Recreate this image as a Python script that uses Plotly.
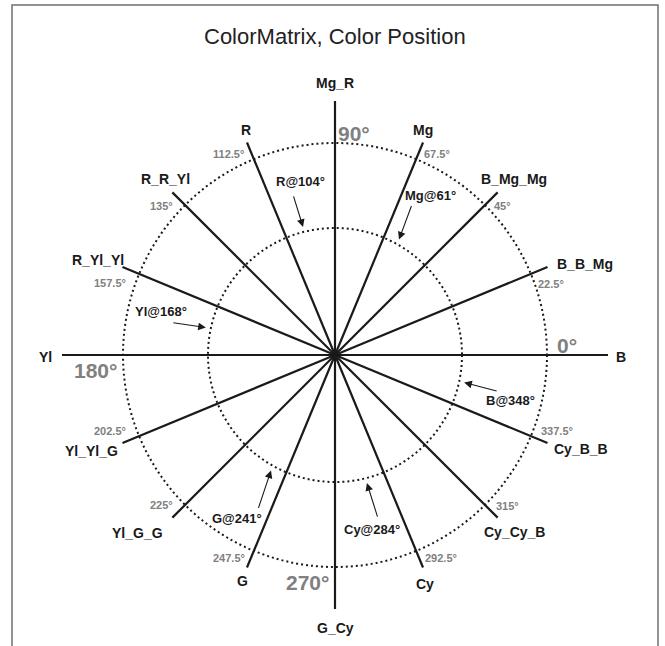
import math
import plotly.graph_objects as go

# ---------------- data ----------------
SPOKE_ANGLES = [0, 22.5, 45, 67.5, 90, 112.5, 135, 157.5,
                180, 202.5, 225, 247.5, 270, 292.5, 315, 337.5]
SPOKE_NAMES = ["B", "B_B_Mg", "B_Mg_Mg", "Mg", "Mg_R", "R", "R_R_Yl", "R_Yl_Yl",
               "Yl", "Yl_Yl_G", "Yl_G_G", "G", "G_Cy", "Cy", "Cy_Cy_B", "Cy_B_B"]
MAJOR_TICKS = [0, 90, 180, 270]
MINOR_TICKS = [22.5, 45, 67.5, 112.5, 135, 157.5, 202.5, 225, 247.5, 292.5, 315, 337.5]
HUE_NAMES = ["R", "Mg", "Yl", "B", "G", "Cy"]
HUE_ANGLES = [104, 61, 168, 348, 241, 284]

# ---------------- layout / style ----------------
W, H = 665, 646
CX, CY = 335, 355            # pixel position of the centre
R_INNER, R_OUTER = 127, 212  # dotted rings
R_ARROW = 132
FONT = "Liberation Sans, Arial, Helvetica, sans-serif"
GRAY = "#808080"
INK = "#1a1a1a"


def spoke_len(a):
    if a % 180 == 0:
        return 273
    if a % 180 == 90:
        return 254
    return 230


def pol(r, a):
    t = math.radians(a)
    return r * math.cos(t), r * math.sin(t)


# offsets (px) of the spoke names from the spoke ends
NAME_OFF = {0: (13, -2), 22.5: (38, 3), 45: (16, 13), 67.5: (0, 13), 90: (0, 18),
            112.5: (-1, 13), 135: (-7, 13), 157.5: (-25, 7), 180: (-17, -2),
            202.5: (-31, -8), 225: (-35, -15), 247.5: (-4, -14), 270: (0, -19),
            292.5: (2, -17), 315: (17, -14), 337.5: (34, -6)}
# offsets of the degree labels from the outer ring crossing
MINOR_OFF = {22.5: (20, -10), 45: (18, -1), 67.5: (21, 5), 112.5: (-25, 5),
             135: (-24, -1), 157.5: (-29, -9), 202.5: (-29, 5), 225: (-24, 0),
             247.5: (-25, -7), 292.5: (25, -7), 315: (23, -1), 337.5: (26, 5)}
MAJOR_OFF = {0: (20, 10), 90: (19, 10), 180: (-28, -15), 270: (-28, -15)}
# arrow tail and text offsets from the arrow head
TAIL_OFF = {"R": (-10, 32), "Mg": (13, 35), "Yl": (-34, 5), "B": (34, -9),
            "G": (-13, -39), "Cy": (11, -35)}
TEXT_OFF = {"R": (-3, 45), "Mg": (32, 44), "Yl": (-45, 16), "B": (46, -18),
            "G": (-34, -48), "Cy": (5, -46)}

fig = go.Figure()

# spokes
xs, ys = [], []
for a in SPOKE_ANGLES:
    x, y = pol(spoke_len(a), a)
    xs += [0, x, None]
    ys += [0, y, None]
fig.add_trace(go.Scatter(x=xs, y=ys, mode="lines",
                         line=dict(color=INK, width=2.2),
                         hoverinfo="skip", showlegend=False))

shapes = []
for r in (R_INNER, R_OUTER):
    shapes.append(dict(type="circle", xref="x", yref="y", x0=-r, x1=r, y0=-r, y1=r,
                       line=dict(color=INK, width=2, dash="2px,3px")))
# frame
shapes.append(dict(type="rect", xref="paper", yref="paper",
                   x0=12 / W, x1=658 / W, y0=-0.1, y1=1 - 5 / H,
                   line=dict(color="#707070", width=1.5)))

ann = []
# title
ann.append(dict(x=0, y=CY - 36, xref="x", yref="y", text="ColorMatrix, Color Position",
                showarrow=False, font=dict(family=FONT, size=22, color="#222222"),
                xanchor="center", yanchor="middle"))
# spoke names
for a, n in zip(SPOKE_ANGLES, SPOKE_NAMES):
    x, y = pol(spoke_len(a), a)
    dx, dy = NAME_OFF[a]
    ann.append(dict(x=x + dx, y=y + dy, xref="x", yref="y", text="<b>%s</b>" % n,
                    showarrow=False, font=dict(family=FONT, size=14, color=INK),
                    xanchor="center", yanchor="middle"))
# minor degree labels
for a in MINOR_TICKS:
    x, y = pol(R_OUTER, a)
    dx, dy = MINOR_OFF[a]
    ann.append(dict(x=x + dx, y=y + dy, xref="x", yref="y",
                    text="<b>%s°</b>" % (("%g" % a)),
                    showarrow=False, font=dict(family=FONT, size=11, color=GRAY),
                    xanchor="center", yanchor="middle"))
# major degree labels
for a in MAJOR_TICKS:
    x, y = pol(R_OUTER, a)
    dx, dy = MAJOR_OFF[a]
    ann.append(dict(x=x + dx, y=y + dy, xref="x", yref="y", text="<b>%d°</b>" % a,
                    showarrow=False, font=dict(family=FONT, size=21, color=GRAY),
                    xanchor="center", yanchor="middle"))
# hue call-outs
for n, a in zip(HUE_NAMES, HUE_ANGLES):
    hx, hy = pol(R_ARROW, a)
    tx, ty = TAIL_OFF[n]
    ann.append(dict(x=hx, y=hy, ax=hx + tx, ay=hy + ty, xref="x", yref="y",
                    axref="x", ayref="y", text="", showarrow=True,
                    arrowhead=2, arrowsize=1.4, arrowwidth=1.1, arrowcolor=INK,
                    standoff=0, startstandoff=0))
    ox, oy = TEXT_OFF[n]
    ann.append(dict(x=hx + ox, y=hy + oy, xref="x", yref="y",
                    text="<b>%s@%d°</b>" % (n, a), showarrow=False,
                    font=dict(family=FONT, size=13, color=INK),
                    xanchor="center", yanchor="middle"))

fig.update_layout(
    width=W, height=H, margin=dict(l=0, r=0, t=0, b=0, pad=0),
    paper_bgcolor="white", plot_bgcolor="white",
    xaxis=dict(range=[-CX, W - CX], visible=False, fixedrange=True),
    yaxis=dict(range=[-(H - CY), CY], visible=False, fixedrange=True),
    shapes=shapes, annotations=ann, showlegend=False,
)

fig.write_html("out.html", config={"displayModeBar": False},
               post_script="document.body.style.margin='0';")
